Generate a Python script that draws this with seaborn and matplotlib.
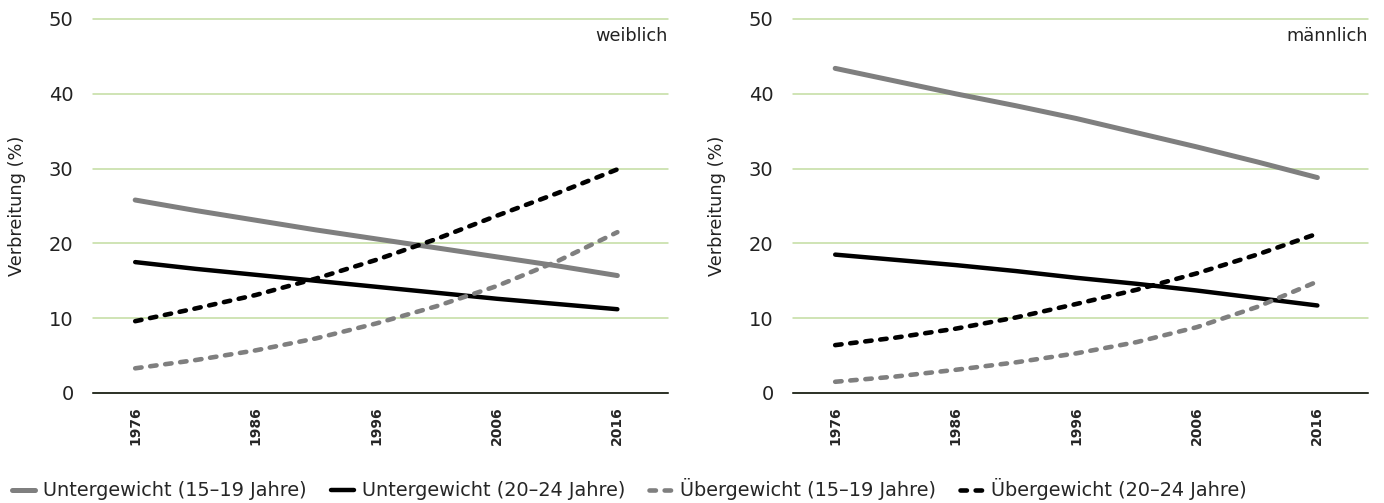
import matplotlib
matplotlib.use("Agg")
import matplotlib.pyplot as plt
import seaborn as sns
import pandas as pd

# ==============================
# DATA
# ==============================
years = [1976, 1981, 1986, 1991, 1996, 2001, 2006, 2011, 2016]
tick_years = [1976, 1986, 1996, 2006, 2016]

# weiblich
w_unter_15_19 = [25.8, 24.4, 23.1, 21.8, 20.6, 19.4, 18.2, 17.0, 15.7]
w_unter_20_24 = [17.5, 16.6, 15.8, 15.0, 14.2, 13.4, 12.6, 11.9, 11.2]
w_ueber_15_19 = [3.3, 4.4, 5.7, 7.3, 9.3, 11.6, 14.3, 17.6, 21.5]
w_ueber_20_24 = [9.6, 11.3, 13.1, 15.3, 17.8, 20.6, 23.7, 26.7, 29.9]

# männlich
m_unter_15_19 = [43.4, 41.7, 40.0, 38.4, 36.7, 34.8, 32.9, 30.9, 28.8]
m_unter_20_24 = [18.5, 17.8, 17.1, 16.3, 15.4, 14.6, 13.7, 12.7, 11.7]
m_ueber_15_19 = [1.5, 2.2, 3.1, 4.1, 5.3, 6.8, 8.8, 11.5, 14.9]
m_ueber_20_24 = [6.4, 7.4, 8.6, 10.1, 11.9, 13.8, 16.0, 18.5, 21.3]

labels = [
    "Untergewicht (15–19 Jahre)",
    "Untergewicht (20–24 Jahre)",
    "Übergewicht (15–19 Jahre)",
    "Übergewicht (20–24 Jahre)",
]
colors = ["#7f7f7f", "#000000", "#7f7f7f", "#000000"]
widths = [3.6, 3.2, 3.3, 3.3]
dashed = [False, False, True, True]

panels = [
    ("weiblich", [w_unter_15_19, w_unter_20_24, w_ueber_15_19, w_ueber_20_24]),
    ("männlich", [m_unter_15_19, m_unter_20_24, m_ueber_15_19, m_ueber_20_24]),
]

# ==============================
# STYLE
# ==============================
sns.set_style("white")
plt.rcParams["font.family"] = ["DejaVu Sans"]

fig = plt.figure(figsize=(13.84, 5.03), dpi=100)
positions = [
    [93 / 1384, 110 / 503, 575 / 1384, 374 / 503],
    [793 / 1384, 110 / 503, 575 / 1384, 374 / 503],
]

for pos, (title, series) in zip(positions, panels):
    ax = fig.add_axes(pos)
    for vals, lab, col, lw, dsh in zip(series, labels, colors, widths, dashed):
        df = pd.DataFrame({"Jahr": years, "Wert": vals})
        kw = dict(solid_capstyle="round", dash_capstyle="round")
        if dsh:
            kw["linestyle"] = (0, (1.4, 1.9))
        sns.lineplot(data=df, x="Jahr", y="Wert", color=col, lw=lw,
                     label=lab, ax=ax, **kw)

    ax.set_xlim(1972.5, 2020.2)
    ax.set_ylim(0, 50)
    ax.set_yticks([0, 10, 20, 30, 40, 50])
    ax.set_xticks(tick_years)
    ax.set_xticklabels([str(y) for y in tick_years], rotation=90,
                       fontweight="bold", fontsize=10)
    ax.tick_params(axis="y", length=0, pad=14, labelsize=14, labelcolor="#222222")
    ax.tick_params(axis="x", direction="out", length=4.5, width=1,
                   color="black", pad=5)
    ax.grid(axis="y", color="#c2dda0", lw=1.1)
    ax.grid(axis="x", visible=False)
    for gl in ax.get_ygridlines():
        gl.set_clip_on(False)
    for side in ["left", "right", "top"]:
        ax.spines[side].set_visible(False)
    ax.spines["bottom"].set_color("black")
    ax.spines["bottom"].set_linewidth(1.1)
    ax.spines["bottom"].set_zorder(5)
    ax.set_xlabel("")
    ax.set_ylabel("Verbreitung (%)", fontsize=12.8, color="#222222")
    ax.yaxis.set_label_coords(-0.116, 0.5)
    ax.text(1.0, 0.955, title, transform=ax.transAxes, ha="right",
            va="center", fontsize=12.8, color="#222222")
    handles, leg_labels = ax.get_legend_handles_labels()
    ax.get_legend().remove()

fig.legend(handles, leg_labels, loc="lower left", ncol=4,
           bbox_to_anchor=(12 / 1384, 0.005), frameon=False,
           fontsize=13.9, handlelength=1.2, handletextpad=0.4,
           columnspacing=1.25, borderpad=0, borderaxespad=0)

plt.savefig("out.png", dpi=100)
plt.close()
